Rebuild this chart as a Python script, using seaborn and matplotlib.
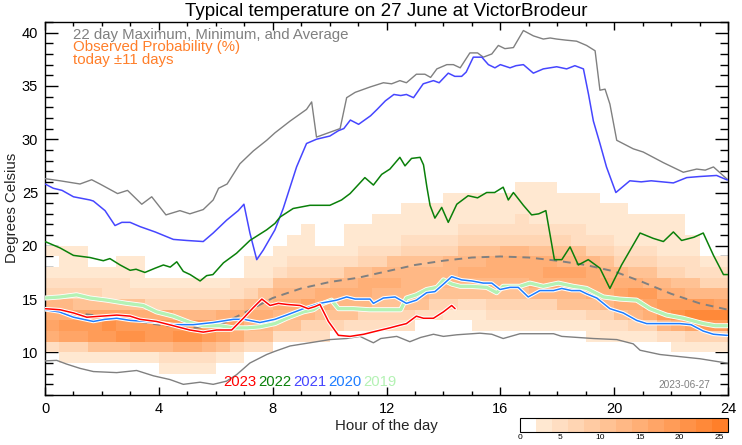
import numpy as np
import pandas as pd
import matplotlib
matplotlib.use("Agg")
import matplotlib.pyplot as plt
import matplotlib.patheffects as pe
from matplotlib.colors import ListedColormap, Normalize, to_rgb
from matplotlib.cm import ScalarMappable
from matplotlib.ticker import MultipleLocator
import seaborn as sns

# ---------------- data ----------------
max_hours = [0, 0.53, 1.23, 1.64, 1.93, 2.55, 2.9, 3.4, 3.75, 4.25, 4.74, 5.09, 5.56, 5.91, 6.1, 6.4,
             6.85, 7.32, 7.79, 8.08, 8.61, 9.19, 9.37, 9.54, 10.37, 10.6, 10.9, 11.42, 11.89, 12.18,
             12.47, 12.7, 13.05, 13.35, 13.55, 13.77, 14.12, 14.35, 14.59, 14.93, 15.2, 15.4, 15.7,
             15.93, 16.16, 16.46, 16.81, 17.16, 17.51, 17.75, 17.98, 18.3, 18.68, 19.03, 19.33, 19.5,
             19.68, 19.85, 20.09, 20.67, 21.02, 21.73, 22.43, 22.9, 23.2, 23.49, 23.95, 24]
max_temps = [26.3, 26.1, 25.8, 26.2, 25.8, 24.9, 25.2, 23.9, 24.6, 22.9, 23.3, 23.0, 23.4, 24.3, 25.4, 25.8,
             27.7, 28.9, 29.9, 30.6, 31.7, 32.8, 33.5, 30.2, 31.0, 33.9, 34.4, 34.9, 35.3, 35.2,
             35.5, 35.3, 36.1, 36.1, 35.8, 36.6, 37.0, 37.0, 36.7, 38.1, 38.1, 37.7, 38.0,
             38.8, 38.5, 38.6, 40.2, 39.7, 39.4, 39.5, 39.4, 39.3, 39.2, 38.8, 38.3, 34.6,
             34.7, 33.3, 29.9, 29.1, 28.8, 27.8, 26.9, 27.2, 27.1, 27.4, 26.3, 26.2]

min_hours = [0, 0.41, 0.76, 1.23, 1.7, 2.52, 3.22, 3.81, 4.39, 4.86, 5.45, 5.91, 6.38, 6.73, 7.2, 7.79,
             8.08, 8.61, 9.31, 10.01, 10.6, 11.07, 11.3, 11.54, 11.8, 12.36, 12.82, 13.2, 13.65, 14.0,
             14.47, 15.28, 15.7, 16.1, 16.69, 17.87, 18.16, 19.27, 20.09, 20.67, 20.91, 21.61, 22.31,
             23.02, 23.95, 24]
min_temps = [9.2, 9.25, 8.9, 8.5, 8.2, 8.1, 8.3, 7.8, 7.45, 7.0, 7.2, 7.0, 7.3, 7.9, 9.0, 9.8,
             10.1, 10.6, 10.9, 11.2, 11.3, 11.5, 11.2, 10.9, 11.3, 11.5, 11.0, 11.4, 11.7, 11.5,
             11.65, 11.8, 11.7, 11.3, 11.75, 11.75, 11.5, 11.3, 11.2, 10.8, 10.2, 9.8, 9.6,
             9.4, 9.0, 9.0]

avg_hours = list(range(0, 25))
avg_temps = [14.0, 13.7, 13.4, 13.0, 12.6, 12.3, 12.4, 13.7, 15.1, 16.0, 16.6, 17.0, 17.6, 18.2, 18.6,
             18.9, 19.0, 18.9, 18.6, 18.2, 17.6, 16.6, 15.5, 14.6, 14.0]

y2023_hours = [0, 0.53, 1.0, 1.47, 2.0, 2.52, 2.99, 3.34, 3.92, 4.51, 5.09, 5.56, 6.03, 6.56, 6.97, 7.32,
               7.62, 7.91, 8.2, 8.49, 8.96, 9.25, 9.49, 9.66, 9.96, 10.31, 10.72, 11.2, 11.65, 12.12,
               12.4, 12.7, 13.05, 13.3, 13.65, 14.0, 14.29, 14.41]
y2023_temps = [14.1, 14.0, 13.7, 13.3, 13.4, 13.5, 13.4, 13.1, 12.9, 12.5, 12.1, 11.9, 12.1, 12.1, 13.2, 14.2,
               15.0, 14.4, 14.6, 14.5, 14.4, 14.1, 14.3, 14.5, 12.9, 11.6, 11.5, 11.7, 12.0, 12.3,
               12.5, 12.7, 13.4, 13.2, 13.2, 13.8, 14.4, 14.1]

y2022_hours = [0, 0.53, 1.0, 1.58, 2.05, 2.28, 2.64, 2.99, 3.2, 3.51, 3.87, 4.16, 4.4, 4.63, 4.86, 5.1,
               5.45, 5.68, 5.9, 6.27, 6.73, 7.2, 7.79, 8.08, 8.26, 8.72, 9.31, 10.01, 10.42, 10.72,
               11.24, 11.54, 11.83, 12.12, 12.47, 12.65, 12.88, 13.18, 13.3, 13.42, 13.53, 13.7, 13.94,
               14.17, 14.47, 14.87, 15.2, 15.52, 15.8, 16.1, 16.28, 16.46, 16.81, 17.1, 17.35, 17.6,
               17.9, 18.16, 18.45, 18.74, 19.09, 19.5, 19.85, 20.26, 20.91, 21.37, 21.73, 22.08, 22.37,
               22.8, 23.13, 23.49, 23.84, 24]
y2022_temps = [20.4, 19.8, 19.1, 18.9, 18.6, 18.8, 18.2, 17.7, 17.8, 17.5, 17.9, 18.2, 18.0, 18.5, 17.6, 17.3,
               16.7, 17.2, 17.3, 18.4, 19.3, 20.5, 21.5, 22.1, 22.7, 23.5, 23.8, 23.8, 24.3, 24.9,
               26.4, 25.7, 26.7, 27.2, 28.3, 27.5, 28.2, 28.3, 27.6, 25.5, 23.8, 22.6, 23.6,
               22.2, 23.9, 24.7, 24.5, 25.0, 25.0, 25.5, 24.3, 25.0, 23.8, 22.9, 23.0, 23.3,
               18.7, 18.7, 19.9, 18.2, 18.7, 17.9, 16.0, 18.2, 21.2, 20.7, 20.4, 21.3, 20.5,
               20.8, 21.2, 19.1, 17.3, 17.3]

y2021_hours = [0, 0.29, 0.6, 1.0, 1.58, 1.7, 2.11, 2.46, 2.7, 2.99, 3.34, 3.87, 4.51, 4.98, 5.56, 5.91,
               6.38, 6.79, 6.99, 7.2, 7.44, 7.67, 8.08, 8.37, 8.84, 9.19, 9.54, 10.01, 10.31, 10.5,
               10.73, 11.02, 11.44, 11.67, 11.96, 12.26, 12.5, 12.7, 12.95, 13.29, 13.65, 13.85, 14.17,
               14.4, 14.64, 14.8, 15.05, 15.35, 15.58, 15.81, 16.0, 16.34, 16.55, 16.81, 17.16, 17.51,
               17.98, 18.33, 18.62, 18.92, 19.1, 19.27, 19.5, 19.73, 20.06, 20.55, 20.95, 21.3, 22.08,
               22.55, 23.0, 23.6, 23.95, 24]
y2021_temps = [25.8, 25.4, 25.2, 24.6, 24.3, 24.2, 23.3, 21.9, 22.2, 22.2, 21.8, 21.3, 20.6, 20.5, 20.4, 21.2,
               22.4, 23.3, 23.9, 21.2, 18.7, 19.6, 21.5, 23.5, 27.4, 29.6, 30.0, 30.3, 30.8, 31.0,
               31.8, 31.4, 32.2, 32.8, 33.6, 34.2, 34.1, 34.2, 33.9, 35.2, 35.5, 35.3, 36.2,
               35.9, 35.9, 36.3, 37.7, 37.7, 37.0, 36.7, 37.0, 36.7, 36.9, 37.0, 36.2, 36.6,
               36.8, 36.6, 36.9, 36.6, 34.2, 31.7, 29.6, 27.4, 25.0, 26.1, 26.0, 26.1, 25.9,
               26.4, 26.5, 26.6, 26.2, 26.2]

y2020_hours = [0, 0.5, 1.0, 1.7, 2.1, 2.52, 3.0, 3.57, 4.0, 4.51, 5.21, 5.91, 6.62, 7.0, 7.55, 8.08,
               8.49, 9.08, 9.66, 10.25, 10.6, 10.9, 11.42, 11.54, 11.89, 12.3, 12.7, 13.05, 13.41, 13.7,
               14.0, 14.29, 14.64, 15.0, 15.4, 15.7, 15.99, 16.34, 16.63, 16.98, 17.39, 17.87, 18.16,
               18.5, 18.8, 19.03, 19.39, 19.85, 20.32, 20.79, 21.14, 21.7, 22.31, 22.7, 23.13, 23.49,
               23.95, 24]
y2020_temps = [14.0, 13.8, 13.3, 12.9, 13.1, 13.2, 13.0, 12.9, 12.8, 12.6, 12.6, 12.8, 13.1, 13.1, 12.8, 13.1,
               13.5, 14.1, 14.6, 14.9, 15.2, 15.0, 15.0, 14.6, 15.1, 15.2, 14.6, 14.9, 15.6, 15.7,
               16.4, 17.1, 16.8, 16.7, 16.5, 16.5, 15.9, 16.1, 16.1, 15.2, 15.8, 15.8, 16.0,
               15.8, 15.8, 15.5, 15.1, 14.1, 13.7, 13.0, 12.7, 12.7, 12.7, 12.6, 12.0, 11.7,
               11.6, 11.6]

y2019_hours = [0, 0.53, 1.11, 1.58, 2.17, 2.87, 3.45, 3.92, 4.51, 5.09, 5.56, 6.15, 6.62, 7.1, 7.55, 8.08,
               8.49, 9.08, 9.43, 9.78, 10.07, 10.31, 10.84, 11.4, 12.0, 12.5, 12.7, 13.05, 13.41, 13.77,
               14.0, 14.3, 14.59, 14.93, 15.52, 15.87, 16.1, 16.69, 17.04, 17.51, 18.04, 18.56, 19.03,
               19.62, 20.2, 20.79, 21.26, 21.84, 22.43, 23.13, 23.55, 23.95, 24]
y2019_temps = [15.1, 15.2, 15.4, 15.1, 14.9, 14.6, 14.4, 13.8, 13.4, 12.8, 12.5, 12.5, 12.3, 12.3, 12.4, 12.7,
               13.2, 13.8, 14.0, 14.6, 14.9, 14.1, 14.1, 14.0, 14.0, 14.0, 15.1, 15.4, 15.9, 16.1,
               16.8, 16.4, 16.2, 16.2, 16.1, 15.6, 16.2, 16.2, 16.5, 16.2, 16.5, 16.2, 16.0,
               15.2, 15.0, 14.9, 14.1, 13.5, 13.2, 12.7, 12.5, 12.5, 12.5]

# Observed probability: one string per half-hour column (0:00 .. 23:30),
# one hex digit per 1-degree row from 7 C to 25 C; level k -> about 2k+1 %
prob_col_start = np.arange(0, 24, 0.5)
prob_row_start = np.arange(7, 26, 1)
prob_levels = [
    "0002787632101000000", "0013897632111000000", "0013898532111000000", "0015998532100000000",
    "00159a8522100000000", "0015a98522110000000", "0016a97521110000000", "0016997321000000000",
    "0126997321000000000", "0127a96321000000000", "0127a96321000000000", "0126996321000000000",
    "0015887321000000000", "0013787522000000000", "0002567632110000000", "0002567652110000000",
    "0000256765211000000", "0000256765321100000", "0000236865321110000", "0000235775321000000",
    "0000035676321000000", "0000025676521110000", "0000023677532110000", "0000023567632111000",
    "0000023567652111000", "0000023566653211100", "0000002566653211100", "0000002356653211100",
    "0000001356663211110", "0000001256765321110", "0000011256765321110", "0000012356775321110",
    "0000012356776321110", "0000012356776322111", "0000012367775321111", "0000012367875321111",
    "0000012567865321110", "0000012567865221110", "0000113577763211110", "0000123677653211100",
    "0000125787632111100", "0000136797532111000", "0000137896532111000", "0000269976321111000",
    "000127a975321111000", "000138b965221100000", "000139b963210000000", "000139b863210000000",
]

year_labels = ["2023", "2022", "2021", "2020", "2019"]
cbar_ticks = [0, 5, 10, 15, 20, 25]

# ---------------- style ----------------
sns.set_theme(style="white")
plt.rcParams["font.family"] = ["Liberation Sans", "DejaVu Sans"]
plt.rcParams["axes.unicode_minus"] = False

W, H = 742, 445
fig = plt.figure(figsize=(W / 100, H / 100), dpi=100)
fig.patch.set_facecolor("white")
ax = fig.add_axes([45 / W, 1 - 395 / H, 683 / W, 373 / H])
ax.set_facecolor("white")

# colour map: white, then 12 peach->orange steps of 2 %
light = np.array(to_rgb("#FFE8D1"))
dark = np.array(to_rgb("#FF7F2A"))
colors = [(1, 1, 1)] + [tuple(light + (dark - light) * k / 11) for k in range(12)]
cmap = ListedColormap(colors)

# heatmap data frame
recs = []
for i, col in enumerate(prob_levels):
    for j, ch in enumerate(col):
        lev = int(ch, 16)
        recs.append((prob_col_start[i] + 0.25, prob_row_start[j] + 0.5, (2 * lev + 1) if lev else 0))
prob_df = pd.DataFrame(recs, columns=["hour", "temp", "pct"])

sns.histplot(data=prob_df, x="hour", y="temp", weights="pct", binwidth=(0.5, 1),
             binrange=((0, 24), (7, 26)), cmap=cmap, vmin=0, vmax=26, thresh=0,
             cbar=False, ax=ax, zorder=1)

grey = "#808080"
sns.lineplot(x=max_hours, y=max_temps, color=grey, lw=1.0, ax=ax, zorder=3)
sns.lineplot(x=min_hours, y=min_temps, color=grey, lw=1.0, ax=ax, zorder=3)
sns.lineplot(x=avg_hours, y=avg_temps, color=grey, lw=1.4, ax=ax, zorder=3, linestyle=(0, (4, 3)))

halo = lambda w: [pe.Stroke(linewidth=w, foreground="white"), pe.Normal()]
sns.lineplot(x=y2019_hours, y=y2019_temps, color="#B4F2B4", lw=2.4, ax=ax, zorder=4,
             path_effects=halo(3.6))
sns.lineplot(x=y2020_hours, y=y2020_temps, color="#1E7DFF", lw=1.1, ax=ax, zorder=5,
             path_effects=halo(2.6))
sns.lineplot(x=y2021_hours, y=y2021_temps, color="#4646FF", lw=1.1, ax=ax, zorder=5)
sns.lineplot(x=y2022_hours, y=y2022_temps, color="#0A800A", lw=1.1, ax=ax, zorder=5)
sns.lineplot(x=y2023_hours, y=y2023_temps, color="#FF0000", lw=1.1, ax=ax, zorder=6,
             path_effects=halo(2.6))

ax.set_xlim(0, 24)
ax.set_ylim(6, 41)
ax.set_xlabel("")
ax.set_ylabel("")
ax.grid(False)
for s in ax.spines.values():
    s.set_color("black")
    s.set_linewidth(1.0)
    s.set_visible(True)

ax.xaxis.set_major_locator(MultipleLocator(4))
ax.xaxis.set_minor_locator(MultipleLocator(1))
ax.yaxis.set_major_locator(MultipleLocator(5))
ax.yaxis.set_minor_locator(MultipleLocator(1))
ax.tick_params(which="both", direction="in", top=True, right=True, bottom=True, left=True,
               colors="black", width=1.0, labelsize=10.5)
ax.tick_params(axis="x", which="major", length=5.5, pad=5)
ax.tick_params(axis="x", which="minor", length=3)
ax.tick_params(axis="y", which="major", length=9.5, pad=5)
ax.tick_params(axis="y", which="minor", length=5.5)

# texts
fig.text(386.5 / W, 1 - 11 / H, "Typical temperature on 27 June at VictorBrodeur",
         ha="center", va="center", fontsize=13.5, color="black")
fig.text(386.5 / W, 1 - 426 / H, "Hour of the day", ha="center", va="center", fontsize=10.8)
fig.text(12 / W, 1 - 208 / H, "Degrees Celsius", ha="center", va="center", rotation=90,
         fontsize=10.8)
fig.text(73 / W, 1 - 38.5 / H, "22 day Maximum, Minimum, and Average", ha="left", va="baseline",
         fontsize=10.8, color=grey)
fig.text(73 / W, 1 - 51.5 / H, "Observed Probability (%)", ha="left", va="baseline",
         fontsize=10.8, color="#FF7F2A")
fig.text(73 / W, 1 - 64 / H, "today \u00b111 days", ha="left", va="baseline",
         fontsize=10.8, color="#FF7F2A")

year_colors = ["#FF0000", "#0A800A", "#4646FF", "#1E7DFF", "#B4F2B4"]
for k, (lab, c) in enumerate(zip(year_labels, year_colors)):
    fig.text((223 + 35 * k) / W, 1 - 385.5 / H, lab, ha="left", va="baseline", fontsize=10.7, color=c)

fig.text(710 / W, 1 - 388 / H, "2023-06-27", ha="right", va="baseline", fontsize=7.3, color=grey)

# colour bar
cax = fig.add_axes([520 / W, 1 - 431.7 / H, 207.7 / W, 14 / H])
sm = ScalarMappable(norm=Normalize(0, 26), cmap=cmap)
cb = fig.colorbar(sm, cax=cax, orientation="horizontal", ticks=cbar_ticks)
cb.outline.set_edgecolor("black")
cb.outline.set_linewidth(0.8)
cax.tick_params(length=0, labelsize=6, pad=1.5, colors="black")

fig.savefig("out.png", dpi=100, facecolor="white")
